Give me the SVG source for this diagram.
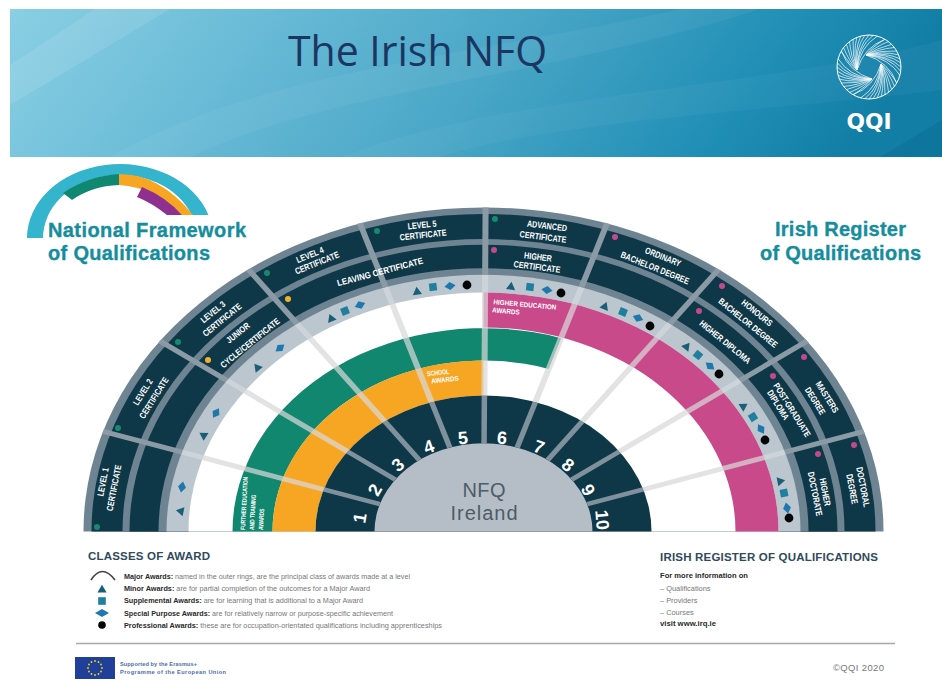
<svg xmlns="http://www.w3.org/2000/svg" xmlns:xlink="http://www.w3.org/1999/xlink" width="942" height="693" viewBox="0 0 942 693">
<style>
.lb{font-family:"Liberation Sans",Arial,sans-serif;font-weight:700;font-size:9px;fill:#fff;text-anchor:middle}
.sm{font-size:7px}
.st{text-anchor:start;font-size:6.500px}
.num{font-family:"Liberation Sans",Arial,sans-serif;font-weight:700;font-size:18px;fill:#fff;text-anchor:middle}
.hd{font-family:"Liberation Sans",Arial,sans-serif;font-weight:700;fill:#158d9c;stroke:#158d9c;stroke-width:.35px;font-size:20px}
.h2{font-family:"Liberation Sans",Arial,sans-serif;font-weight:700;fill:#2f4a5c;font-size:11.5px}
.lg{font-family:"Liberation Sans",Arial,sans-serif;font-size:7.4px;fill:#777}
.lg tspan,.bk{font-weight:700;fill:#2a2a2a}
.ct{font-family:"Liberation Sans",Arial,sans-serif;font-size:20px;fill:#4d5c68;text-anchor:middle}
.eu{font-family:"Liberation Sans",Arial,sans-serif;font-size:5.6px;font-weight:700;fill:#4a6ba8}
.t{fill:#1a5f78}.s{fill:#1f7f9e}.d{fill:#1f78ad}.c{fill:#050505}
.dg{fill:#18896f}.dy{fill:#f3b02e}.dp{fill:#c04a8c}
</style>
<defs>
<linearGradient id="hg" x1="0" y1="0" x2="1" y2="0.12">
<stop offset="0" stop-color="#8acfe3"/><stop offset=".25" stop-color="#6cbdd8"/><stop offset=".55" stop-color="#4aa7c7"/><stop offset=".85" stop-color="#1f8eb5"/><stop offset="1" stop-color="#127ea6"/>
</linearGradient>
<polygon id="tri" points="0,-4.2 4.6,3.6 -4.6,3.6"/>
<rect id="sq" x="-3.8" y="-3.8" width="7.6" height="7.6"/>
<polygon id="dia" points="0,-4 5.6,0 0,4 -5.6,0"/>
<g id="spoke">
<line x1="-109" y1="0" x2="-168" y2="0" stroke="#7f919c" stroke-width="5.5"/>
<line x1="-168" y1="0" x2="-295" y2="0" stroke="#d8d8d8" stroke-opacity=".72" stroke-width="6"/>
<line x1="-295" y1="0" x2="-317" y2="0" stroke="#ccd3d9" stroke-width="6"/>
<line x1="-317" y1="0" x2="-400" y2="0" stroke="#8b9ba6" stroke-width="6"/>
</g>
<g id="blade" fill="none" stroke="#fff" stroke-width=".7">
<path d="M12 -3Q20 3 27.7 16"/><path d="M12 -3Q20 6 25.500 19.500"/><path d="M12 -3Q19 8 22.6 22.6"/><path d="M12 -3Q18 10 19.500 25.400"/><path d="M12 -3Q17 12 16 27.7"/><path d="M12 -3Q16 14 12.200 29.600"/><path d="M12 -3Q15 16 8.3 30.9"/><path d="M12 -3Q14 18 4.200 31.700"/><path d="M12 -3Q12 19 0 32"/><path d="M12 -3Q11 20 -4.200 31.700"/><path d="M12 -3Q9 20 -8.3 30.9"/><path d="M12 -3Q5 20 -16 27.7"/>
</g>
</defs>
<rect width="942" height="693" fill="#fff"/>
<g id="header">
<rect x="10" y="9" width="932" height="148" fill="url(#hg)"/>
<path d="M10 65L95 9H170L10 105Z" fill="#fff" opacity=".1"/>
<path d="M110 157C260 70 480 55 680 9H760C560 75 330 90 190 157Z" fill="#fff" opacity=".05"/>
<path d="M340 157C520 90 760 90 942 40V90C780 110 560 120 440 157Z" fill="#fff" opacity=".04"/>
<path d="M880 157L942 120V157Z" fill="#05607f" opacity=".25"/>
<text x="288" y="66" font-family="'Open Sans','Noto Sans',sans-serif" font-size="42" fill="#1c3663" textLength="259" lengthAdjust="spacingAndGlyphs">The Irish NFQ</text>
</g>
<g id="qqi-logo">
<g transform="translate(869,67)">
<circle r="32" fill="none" stroke="#fff" stroke-width="1"/>
<use xlink:href="#blade" href="#blade"/>
<use xlink:href="#blade" href="#blade" transform="rotate(90)"/>
<use xlink:href="#blade" href="#blade" transform="rotate(180)"/>
<use xlink:href="#blade" href="#blade" transform="rotate(270)"/>
</g>
<text x="869" y="129" font-family="'DejaVu Sans',sans-serif" font-weight="700" font-size="21" fill="#fff" text-anchor="middle" textLength="45" lengthAdjust="spacingAndGlyphs">QQI</text>
</g>
<g id="nfq-badge">
<path d="M27 238A93 74 0 0 1 208.4 215L191.7 215A77 63 0 0 0 43 238Z" fill="#35b4cd"/>
<path d="M63 193Q88 176 119 174L119 185Q92 186 72 200Z" fill="#0f8771"/>
<path d="M119 174Q160 174 193 215L182 215Q155 187 119 185Z" fill="#f6a623"/>
<path d="M142 187Q166 197 182 215L167 215Q152 203 137 197Z" fill="#8f2f8f"/>
<text class="hd" x="48" y="237" textLength="198" lengthAdjust="spacing">National Framework</text>
<text class="hd" x="48" y="260" textLength="162" lengthAdjust="spacing">of Qualifications</text>
</g>
<g id="irq-title">
<text class="hd" x="775" y="236" textLength="131" lengthAdjust="spacing">Irish Register</text>
<text class="hd" x="760" y="260" textLength="161" lengthAdjust="spacing">of Qualifications</text>
</g>
<g id="fan" transform="translate(483.5,531.5) scale(1,.81)">
<path d="M-400 0A400 400 0 0 1 400 0Z" fill="#6f8492"/>
<path d="M-392 0A392 392 0 0 1 392 0Z" fill="#0e3747"/>
<path d="M-361 0A361 361 0 0 1 361 0Z" fill="#6f8492"/>
<path d="M-354 0A354 354 0 0 1 354 0Z" fill="#0e3747"/>
<path d="M-325 0A325 325 0 0 1 325 0Z" fill="#6f8492"/>
<path d="M-317 0A317 317 0 0 1 317 0Z" fill="#bcc6ce"/>
<path d="M-295 0A295 295 0 0 1 295 0Z" fill="#fff"/>
<path d="M0 -295A295 295 0 0 1 295 0L252 0A252 252 0 0 0 0 -252Z" fill="#c94a8b"/>
<path d="M-251 0A251 251 0 0 1 77.6 -238.7L65.2 -200.7A211 211 0 0 0 -211 0Z" fill="#11876f"/>
<path d="M-211 0A211 211 0 0 1 0 -211L0 -168A168 168 0 0 0 -168 0Z" fill="#f6a623"/>
<path d="M-168 0A168 168 0 0 1 168 0Z" fill="#0e3747"/>
<path d="M-109 0A109 109 0 0 1 109 0Z" fill="#b5bec6"/>
</g>
<g id="connectors" transform="translate(483.5,531.5) scale(1,.81)">
<use href="#spoke" transform="rotate(18)"/><use href="#spoke" transform="rotate(36)"/><use href="#spoke" transform="rotate(54)"/>
<use href="#spoke" transform="rotate(72)"/><use href="#spoke" transform="rotate(90.3)"/><use href="#spoke" transform="rotate(108)"/>
<use href="#spoke" transform="rotate(126)"/><use href="#spoke" transform="rotate(144)"/><use href="#spoke" transform="rotate(162)"/>
</g>
<g id="nfq-centre">
<text class="ct" x="484" y="497" textLength="43" lengthAdjust="spacing">NFQ</text>
<text class="ct" x="484" y="520" textLength="67" lengthAdjust="spacing">Ireland</text>
</g>
<g id="award-bands">
<text class="lb st" transform="translate(245,530) rotate(-87) scale(.75,1)">FURTHER EDUCATION</text>
<text class="lb st" transform="translate(254,530) rotate(-87) scale(.75,1)">AND TRAINING</text>
<text class="lb st" transform="translate(263,530) rotate(-87) scale(.75,1)">AWARDS</text>
<text class="lb sm" transform="translate(438,372) rotate(-6) scale(.75,1)" y="3">SCHOOL</text>
<text class="lb sm" transform="translate(445,379) rotate(-6) scale(.9,1)" y="3">AWARDS</text>
<text class="lb sm" transform="translate(525,304) rotate(5) scale(.9,1)" y="3">HIGHER EDUCATION</text>
<text class="lb sm" transform="translate(506,310.500) rotate(5) scale(.9,1)" y="3">AWARDS</text>
</g>
<g id="level-1">
<text class="num" transform="translate(360,518) rotate(-80)" y="6">1</text>
<text class="lb" transform="translate(103,482) rotate(-79) scale(.8,1)" y="3">LEVEL 1</text>
<text class="lb" transform="translate(114,488) rotate(-79) scale(.8,1)" y="3">CERTIFICATE</text>
<circle class="dg" cx="97" cy="527" r="3"/>
<use class="t" href="#tri" transform="translate(180,511) rotate(-79)"/><use class="d" href="#dia" transform="translate(182,487) rotate(-79)"/>
</g>
<g id="level-2">
<text class="num" transform="translate(375,490) rotate(-60)" y="6">2</text>
<text class="lb" transform="translate(143,392) rotate(-58) scale(.8,1)" y="3">LEVEL 2</text>
<text class="lb" transform="translate(154,398) rotate(-58) scale(.8,1)" y="3">CERTIFICATE</text>
<circle class="dg" cx="118" cy="428" r="3"/>
<use class="t" href="#tri" transform="translate(203,435) rotate(-58)"/><use class="d" href="#dia" transform="translate(216,413) rotate(-58)"/>
</g>
<g id="level-3">
<text class="num" transform="translate(398,465) rotate(-40)" y="6">3</text>
<text class="lb" transform="translate(213,312) rotate(-39) scale(.8,1)" y="3">LEVEL 3</text>
<text class="lb" transform="translate(222,320) rotate(-39) scale(.8,1)" y="3">CERTIFICATE</text>
<text class="lb" transform="translate(238,333) rotate(-39) scale(.8,1)" y="3">JUNIOR</text>
<text class="lb" transform="translate(250,343) rotate(-39) scale(.8,1)" y="3">CYCLE/CERTIFICATE</text>
<circle class="dg" cx="178" cy="342" r="3"/><circle class="dy" cx="208" cy="360" r="3"/>
<use class="t" href="#tri" transform="translate(257,367) rotate(-39)"/><use class="d" href="#dia" transform="translate(280,348) rotate(-39)"/>
</g>
<g id="level-4">
<text class="num" transform="translate(429,447) rotate(-20)" y="6">4</text>
<text class="lb" transform="translate(310,255) rotate(-22) scale(.8,1)" y="3">LEVEL 4</text>
<text class="lb" transform="translate(317,263) rotate(-22) scale(.8,1)" y="3">CERTIFICATE</text>
<text class="lb" transform="translate(380,272) rotate(-15) scale(.88,1)" y="3">LEAVING CERTIFICATE</text>
<circle class="dg" cx="267" cy="273" r="3"/><circle class="dy" cx="288" cy="299" r="3"/>
<use class="t" href="#tri" transform="translate(331,318) rotate(-22)"/><use class="s" href="#sq" transform="translate(345,311) rotate(-22)"/><use class="d" href="#dia" transform="translate(360,305) rotate(-22)"/>
</g>
<g id="level-5">
<text class="num" transform="translate(463,438) rotate(-5)" y="6">5</text>
<text class="lb" transform="translate(422,225) rotate(-6) scale(.8,1)" y="3">LEVEL 5</text>
<text class="lb" transform="translate(423,235) rotate(-6) scale(.8,1)" y="3">CERTIFICATE</text>
<circle class="dg" cx="377" cy="231" r="3"/>
<use class="t" href="#tri" transform="translate(417,291) rotate(-7)"/><use class="s" href="#sq" transform="translate(433,287) rotate(-7)"/><use class="d" href="#dia" transform="translate(450,286) rotate(-7)"/><circle class="c" cx="467" cy="285" r="4.4"/>
</g>
<g id="level-6">
<text class="num" transform="translate(502,438) rotate(5)" y="6">6</text>
<text class="lb" transform="translate(547,226) rotate(7) scale(.8,1)" y="3">ADVANCED</text>
<text class="lb" transform="translate(543,237) rotate(7) scale(.8,1)" y="3">CERTIFICATE</text>
<text class="lb" transform="translate(538,257) rotate(7) scale(.8,1)" y="3">HIGHER</text>
<text class="lb" transform="translate(537,267) rotate(7) scale(.8,1)" y="3">CERTIFICATE</text>
<circle class="dg" cx="495" cy="219" r="3"/><circle class="dp" cx="494" cy="250" r="3"/>
<use class="t" href="#tri" transform="translate(511,286) rotate(7)"/><use class="s" href="#sq" transform="translate(530,287) rotate(7)"/><use class="d" href="#dia" transform="translate(547,290) rotate(7)"/><circle class="c" cx="561" cy="293" r="4.4"/>
</g>
<g id="level-7">
<text class="num" transform="translate(539,447) rotate(20)" y="6">7</text>
<text class="lb" transform="translate(663,257) rotate(22) scale(.8,1)" y="3">ORDINARY</text>
<text class="lb" transform="translate(655,268) rotate(22) scale(.8,1)" y="3">BACHELOR DEGREE</text>
<circle class="dp" cx="615" cy="237" r="3"/>
<use class="t" href="#tri" transform="translate(605,306) rotate(22)"/><use class="s" href="#sq" transform="translate(623,312) rotate(22)"/><use class="d" href="#dia" transform="translate(638,318) rotate(22)"/><circle class="c" cx="650" cy="326" r="4.4"/>
</g>
<g id="level-8">
<text class="num" transform="translate(568,465) rotate(38)" y="6">8</text>
<text class="lb" transform="translate(757,313) rotate(39) scale(.8,1)" y="3">HONOURS</text>
<text class="lb" transform="translate(748,323) rotate(39) scale(.8,1)" y="3">BACHELOR DEGREE</text>
<text class="lb" transform="translate(725,342) rotate(39) scale(.8,1)" y="3">HIGHER DIPLOMA</text>
<circle class="dp" cx="722" cy="286" r="3"/><circle class="dp" cx="699" cy="311" r="3"/>
<use class="t" href="#tri" transform="translate(687,346) rotate(39)"/><use class="s" href="#sq" transform="translate(698,355) rotate(39)"/><use class="d" href="#dia" transform="translate(710,366) rotate(39)"/><circle class="c" cx="719" cy="374" r="4.4"/>
</g>
<g id="level-9">
<text class="num" transform="translate(588,490) rotate(60)" y="6">9</text>
<text class="lb" transform="translate(827,397) rotate(58) scale(.8,1)" y="3">MASTERS</text>
<text class="lb" transform="translate(815,401) rotate(58) scale(.8,1)" y="3">DEGREE</text>
<text class="lb" transform="translate(792,410) rotate(58) scale(.8,1)" y="3">POST-GRADUATE</text>
<text class="lb" transform="translate(778,405) rotate(58) scale(.8,1)" y="3">DIPLOMA</text>
<circle class="dp" cx="804" cy="357" r="3"/><circle class="dp" cx="773" cy="376" r="3"/>
<use class="t" href="#tri" transform="translate(744,406) rotate(58)"/><use class="s" href="#sq" transform="translate(753,417) rotate(58)"/><use class="d" href="#dia" transform="translate(761,429) rotate(58)"/><circle class="c" cx="765" cy="440" r="4.4"/>
</g>
<g id="level-10">
<text class="num" transform="translate(602,520) rotate(85)" y="6">10</text>
<text class="lb" transform="translate(863,487) rotate(79) scale(.8,1)" y="3">DOCTORAL</text>
<text class="lb" transform="translate(852,489) rotate(79) scale(.8,1)" y="3">DEGREE</text>
<text class="lb" transform="translate(825,492) rotate(79) scale(.8,1)" y="3">HIGHER</text>
<text class="lb" transform="translate(815,494) rotate(79) scale(.8,1)" y="3">DOCTORATE</text>
<circle class="dp" cx="854" cy="445" r="3"/><circle class="dp" cx="818" cy="454" r="3"/>
<use class="t" href="#tri" transform="translate(781,481) rotate(79)"/><use class="s" href="#sq" transform="translate(784,493) rotate(79)"/><use class="d" href="#dia" transform="translate(787,508) rotate(79)"/><circle class="c" cx="789" cy="518" r="4.4"/>
</g>
<g id="classes-of-award">
<text class="h2" x="88" y="560" textLength="122" lengthAdjust="spacing">CLASSES OF AWARD</text>
<path d="M91 580Q102 563 115 580" fill="none" stroke="#444" stroke-width="1.6"/>
<use class="t" href="#tri" transform="translate(102,589)"/>
<use class="s" href="#sq" transform="translate(102,601)"/>
<use class="d" href="#dia" transform="translate(102,613) scale(1.25,1)"/>
<circle class="c" cx="102" cy="625" r="3.8"/>
<text class="lg" x="124" y="579" textLength="286" lengthAdjust="spacingAndGlyphs"><tspan>Major Awards:</tspan> named in the outer rings, are the principal class of awards made at a level</text>
<text class="lg" x="124" y="591" textLength="246" lengthAdjust="spacingAndGlyphs"><tspan>Minor Awards:</tspan> are for partial completion of the outcomes for a Major Award</text>
<text class="lg" x="124" y="603" textLength="239" lengthAdjust="spacingAndGlyphs"><tspan>Supplemental Awards:</tspan> are for learning that is additional to a Major Award</text>
<text class="lg" x="124" y="615.500" textLength="269" lengthAdjust="spacingAndGlyphs"><tspan>Special Purpose Awards:</tspan> are for relatively narrow or purpose-specific achievement</text>
<text class="lg" x="124" y="628" textLength="318" lengthAdjust="spacingAndGlyphs"><tspan>Professional Awards:</tspan> these are for occupation-orientated qualifications including apprenticeships</text>
</g>
<g id="irq-info">
<text class="h2" x="660" y="561" textLength="218" lengthAdjust="spacing">IRISH REGISTER OF QUALIFICATIONS</text>
<text class="lg bk" x="660" y="578" textLength="88" lengthAdjust="spacingAndGlyphs">For more information on</text>
<text class="lg" x="660" y="591">–  Qualifications</text>
<text class="lg" x="660" y="603">–  Providers</text>
<text class="lg" x="660" y="615">–  Courses</text>
<text class="lg bk" x="660" y="626" textLength="56" lengthAdjust="spacingAndGlyphs">visit www.irq.ie</text>
</g>
<line x1="76" y1="643.500" x2="895" y2="643.500" stroke="#a9a9a9" stroke-width="1.6"/>
<g id="footer">
<rect x="75" y="657" width="40" height="22" fill="#1f3f99"/>
<g fill="#f4d21f">
<circle cx="95" cy="661" r=".9"/><circle cx="98.500" cy="662" r=".9"/><circle cx="101" cy="664.500" r=".9"/><circle cx="102" cy="668" r=".9"/><circle cx="101" cy="671.500" r=".9"/><circle cx="98.500" cy="674" r=".9"/><circle cx="95" cy="675" r=".9"/><circle cx="91.500" cy="674" r=".9"/><circle cx="89" cy="671.500" r=".9"/><circle cx="88" cy="668" r=".9"/><circle cx="89" cy="664.500" r=".9"/><circle cx="91.500" cy="662" r=".9"/>
</g>
<text class="eu" x="120" y="666" textLength="77">Supported by the Erasmus+</text>
<text class="eu" x="120" y="673.500" textLength="106">Programme of the European Union</text>
<text x="833" y="671" font-family="'Liberation Sans',sans-serif" font-size="9.5" fill="#777" textLength="51">©QQI 2020</text>
</g>
</svg>
